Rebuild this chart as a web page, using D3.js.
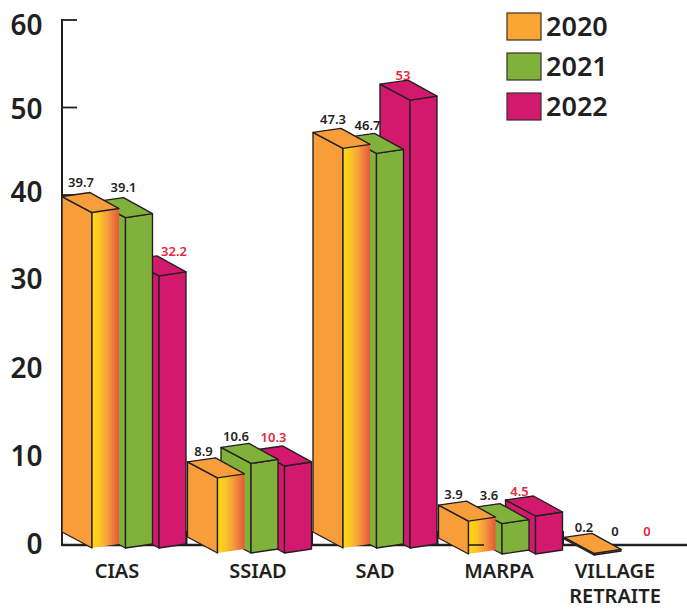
<!DOCTYPE html>
<html><head><meta charset="utf-8">
<script src="https://cdn.jsdelivr.net/npm/d3@7"></script>
<style>html,body{margin:0;padding:0;background:#fff}svg{display:block}text{font-family:"Noto Sans",sans-serif;fill:#231f20}</style>
</head><body><div id="chart"></div>
<script>
const categories = ["CIAS","SSIAD","SAD","MARPA","VILLAGE RETRAITE"];
const years = ["2020","2021","2022"];
const values2020 = [39.7,8.9,47.3,3.9,0.2];
const values2021 = [39.1,10.6,46.7,3.6,0];
const values2022 = [32.2,10.3,53,4.5,0];
const yTicks = [0,10,20,30,40,50,60];
const seriesValues = [values2020,values2021,values2022];
const colors = ["#f79e3b","#80b13a","#d2196e"];
const legendColors = ["#faa634","#80b13a","#d2196e"];

const W=687,H=609,ink="#231f20",red="#e5283a";
const svg=d3.select("#chart").append("svg").attr("width",W).attr("height",H);
const defs=svg.append("defs");
const g=defs.append("linearGradient").attr("id","side").attr("x1",0).attr("x2",1).attr("y1",0).attr("y2",0);
[[0,"#ffd80e"],[0.3,"#fcc428"],[0.6,"#f49a3c"],[1,"#e8563a"]].forEach(s=>g.append("stop").attr("offset",s[0]).attr("stop-color",s[1]));

// scales
const yAxis=d3.scaleLinear().domain([0,60]).range([545,20]);
const barH=d3.scaleLinear().domain([0,60]).range([0,507]);
const xCat=d3.scalePoint().domain(categories).range([62,564]);
const xYear=d3.scalePoint().domain(years).range([0,67]);
// layout: how far each group's drawn foot hangs below the axis line
const footDrop=[3,8,3,9,10];
const FL={x:-30,y:-16},FR={x:27,y:-4},FB={x:-2,y:-20};

// axes
svg.append("line").attr("x1",62).attr("x2",687).attr("y1",yAxis(0)).attr("y2",yAxis(0)).attr("stroke",ink).attr("stroke-width",2.4);
svg.append("line").attr("x1",62).attr("x2",62).attr("y1",yAxis(60)-1).attr("y2",yAxis(0)+1).attr("stroke",ink).attr("stroke-width",2);
svg.selectAll(".ytick").data(yTicks.slice(1)).join("line").attr("x1",62).attr("x2",77)
  .attr("y1",d=>yAxis(d)).attr("y2",d=>yAxis(d)).attr("stroke",ink).attr("stroke-width",1.8);
svg.selectAll(".xtick").data(categories.slice(1)).join("line").attr("x1",d=>xCat(d)-1).attr("x2",d=>xCat(d)-1)
  .attr("y1",531).attr("y2",545).attr("stroke",ink).attr("stroke-width",2);
const yLabelNudge=[-1,-2,-2,-3.5,-3,1.5,5];
svg.selectAll(".ylab").data(yTicks).join("text").attr("x",42.5).attr("y",(d,i)=>yAxis(d)+yLabelNudge[i])
  .attr("dy","0.36em").attr("text-anchor","end").attr("font-size",28).attr("font-weight",600).text(d=>d);

// bars, drawn back to front
const pts=a=>a.map(p=>p.join(",")).join(" ");
categories.forEach((cat,ci)=>{
  const grp=svg.append("g");
  [2,1,0].forEach(si=>{
    const v=seriesValues[si][ci];
    if(v===0) return;
    const fx=xCat(cat)+xYear(years[si])+30;
    const fb=yAxis(0)+footDrop[ci];
    const ft=fb-barH(v);
    const sw=1.35;
    const face=(p,fill)=>grp.append("polygon").attr("points",pts(p)).attr("fill",fill).attr("stroke",ink).attr("stroke-width",sw).attr("stroke-linejoin","round");
    const grad=si===0&&ci<4;
    face([[fx+FL.x,ft+FL.y],[fx,ft],[fx,fb],[fx+FL.x,fb+FL.y]],colors[si]);
    face([[fx,ft],[fx+FR.x,ft+FR.y],[fx+FR.x,fb+FR.y],[fx,fb]],grad?"url(#side)":colors[si]).attr("stroke-width",grad?0:sw);
    if(grad){
      grp.append("line").attr("x1",fx).attr("x2",fx).attr("y1",ft).attr("y2",fb).attr("stroke",ink).attr("stroke-width",sw);
    }
    face([[fx+FL.x,ft+FL.y],[fx+FB.x,ft+FB.y],[fx+FR.x,ft+FR.y],[fx,ft]],colors[si]);
  });
});
// axis line showing through the MARPA side face
svg.append("line").attr("x1",468).attr("x2",484).attr("y1",yAxis(0)).attr("y2",yAxis(0)).attr("stroke",ink).attr("stroke-width",1.6);

// value labels
const labelDX=[[-9,0,17],[-12,-13,-9],[-8,-7,-5],[-13,-11,-14],[-8,0,0]];
const labelDY=[[-10,-10,-5],[-6,-7,-9],[-9,-8,-5],[-7,-8,-5],[-6,0,0]];
categories.forEach((cat,ci)=>{
  years.forEach((yr,si)=>{
    const v=seriesValues[si][ci];
    const fx=xCat(cat)+xYear(yr)+30;
    const ft=yAxis(0)+footDrop[ci]-barH(v);
    const zero=v===0;
    svg.append("text").attr("x",zero?xCat(cat)+(si===1?51:83):fx+FB.x+labelDX[ci][si])
      .attr("y",zero?531:ft+FB.y+labelDY[ci][si]).attr("dy","0.36em").attr("text-anchor","middle")
      .attr("font-size",13).attr("font-weight",600).style("fill",si===2?red:ink).text(v);
  });
});

// category labels
const catLines=[["CIAS"],["SSIAD"],["SAD"],["MARPA"],["VILLAGE","RETRAITE"]];
const catCenter=[117,258,375,499,615];
catLines.forEach((ls,i)=>ls.forEach((t,j)=>{
  svg.append("text").attr("x",catCenter[i]).attr("y",570.5+j*25).attr("dy","0.36em").attr("text-anchor","middle")
    .attr("font-size",20).attr("font-weight",600).text(t);
}));

// legend
years.forEach((yr,i)=>{
  const y=13+i*40;
  svg.append("rect").attr("x",507).attr("y",y).attr("width",34).attr("height",27).attr("fill",legendColors[i]).attr("stroke","#3a3026").attr("stroke-width",1.2);
  svg.append("text").attr("x",546).attr("y",y+13).attr("dy","0.36em").attr("font-size",27).attr("font-weight",600).text(yr);
});
</script></body></html>
